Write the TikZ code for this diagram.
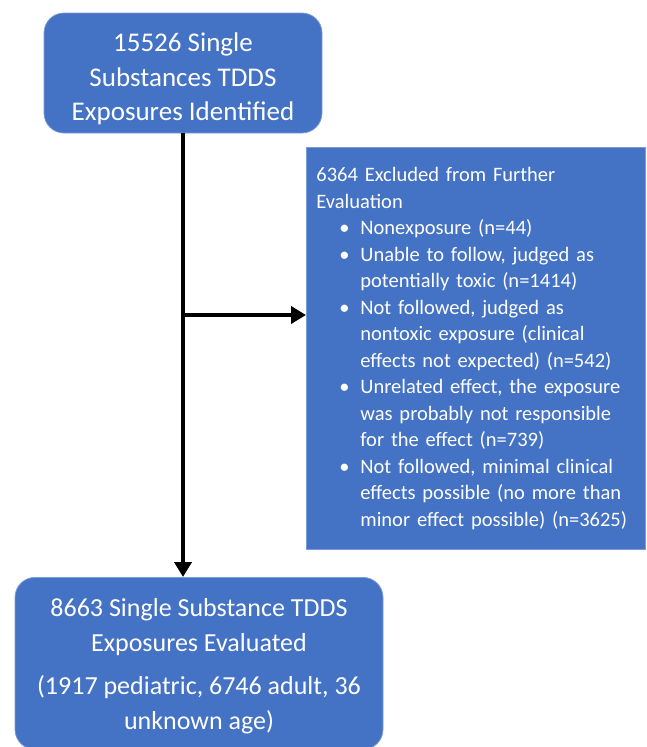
\documentclass[tikz,border=0pt]{standalone}
\usepackage{fontspec}
\setmainfont{Carlito}
\usetikzlibrary{arrows.meta}
\definecolor{boxblue}{HTML}{4472C4}
\newcommand\bitem[1]{\hspace*{23pt}\makebox[21pt][l]{\textbullet}#1}
\newcommand\citem[1]{\hspace*{44pt}#1}
\begin{document}
\begin{tikzpicture}[x=1pt,y=1pt,
  box/.style={fill=boxblue, draw=boxblue!70!white, line width=0.8pt, text=white, inner sep=0pt, align=center},
  rbox/.style={box, rounded corners=20pt},
  conn/.style={line width=4pt, draw=black, -{Triangle[length=15pt,width=17pt]}}]
\useasboundingbox (0,0) rectangle (646,-747);
\node[rbox, minimum width=278, minimum height=120, font=\fontsize{27}{34.5}\selectfont] (top) at (183,-73)
  {\rule{0pt}{31pt}15526 Single\\Substances TDDS\\Exposures Identified};
\node[box, anchor=north west, minimum width=339, minimum height=402, text width=319, align=left,
  font=\fontsize{20.5}{26.5}\selectfont] (excl) at (306,-147)
  {6364 Excluded from Further\\
   Evaluation\\
   \bitem{Nonexposure (n=44)}\\
   \bitem{Unable to follow, judged as}\\
   \citem{potentially toxic (n=1414)}\\
   \bitem{Not followed, judged as}\\
   \citem{nontoxic exposure (clinical}\\
   \citem{effects not expected) (n=542)}\\
   \bitem{Unrelated effect, the exposure}\\
   \citem{was probably not responsible}\\
   \citem{for the effect (n=739)}\\
   \bitem{Not followed, minimal clinical}\\
   \citem{effects possible (no more than}\\
   \citem{minor effect possible) (n=3625)}};
\node[rbox, anchor=north, minimum width=368, minimum height=172, font=\fontsize{26}{35}\selectfont] (eval) at (199,-577)
  {\rule{0pt}{24.5pt}8663 Single Substance TDDS\\Exposures Evaluated\\[8pt](1917 pediatric, 6746 adult, 36\\unknown age)};
\draw[conn] (top.south) -- (top.south |- eval.north);
\coordinate (j) at (183,-315);
\draw[conn] (j) -- (j -| excl.west);
\end{tikzpicture}
\end{document}
